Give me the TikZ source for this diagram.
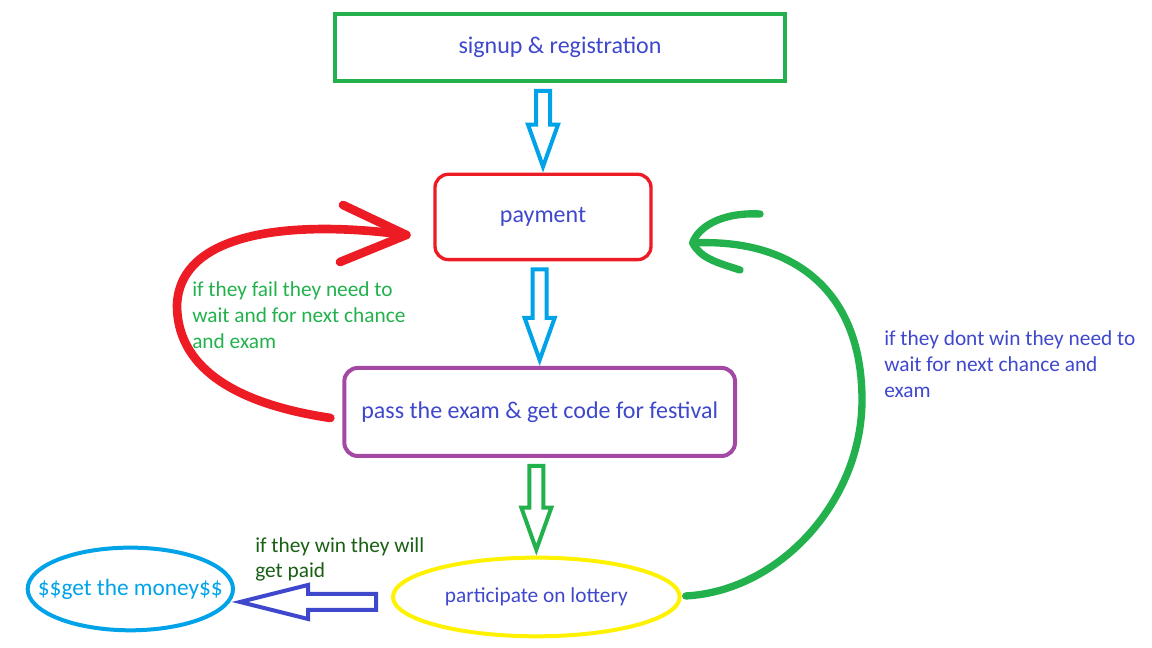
\documentclass[tikz,border=0pt]{standalone}
\usepackage{fontspec}
\setmainfont{Carlito}
\usetikzlibrary{shapes, arrows.meta, positioning, calc}
\definecolor{pgreen}{RGB}{34,177,76}
\definecolor{pred}{RGB}{237,28,36}
\definecolor{ppurple}{RGB}{163,73,164}
\definecolor{pyellow}{RGB}{255,242,0}
\definecolor{pcyan}{RGB}{0,162,232}
\definecolor{pindigo}{RGB}{63,72,204}
\definecolor{pdark}{RGB}{25,95,20}
\tikzstyle{block}=[draw,fill=white,rectangle,line width=3pt,font=\fontsize{18}{22}\selectfont]
\tikzstyle{every node}=[font=\fontsize{16}{19.5}\selectfont,text=pindigo]
\tikzstyle{hollow}=[line width=3pt,line join=miter]
\tikzstyle{loopline}=[line width=6pt,line cap=round,line join=round]
\tikzstyle{note}=[anchor=west,align=left,inner sep=0pt]
% hollow block arrow pointing down: colour, from, to
\newcommand{\hollowdown}[3]{%
    \coordinate (T) at ($(#3.north)+(0,-6)$);
    \draw[hollow,#1] ($(T |- #2.south)+(-7,8)$) -- ($(T |- #2.south)+(7,8)$)
        -- ($(T)+(7,-42)$) -- ($(T)+(15,-42)$) -- (T) -- ($(T)+(-15,-42)$)
        -- ($(T)+(-7,-42)$) -- cycle;}

\begin{document}
\begin{tikzpicture}[x=0.75pt,y=-0.75pt]
    \useasboundingbox (0,0) rectangle (1152,648);
    \node[block, draw=pgreen, minimum width=337pt, minimum height=50pt] (sign) at (560,47.5) {signup \& registration};
    \node[block, draw=pred, rounded corners=10pt, line width=2.5pt, minimum width=162pt, minimum height=64pt, below of=sign, node distance=127.1pt, xshift=-12.75pt] (pay) {payment};
    \node[block, draw=ppurple, rounded corners=10pt, minimum width=293pt, minimum height=66pt, below of=pay, node distance=146.25pt, xshift=-2.5pt] (pass) {pass the exam \& get code for festival};
    \node[draw=pyellow, ellipse, line width=3pt, minimum width=215pt, minimum height=59pt, below of=pass, node distance=138.75pt, xshift=-2.5pt] (lot) {participate on lottery};
    \node[draw=pcyan, ellipse, line width=3pt, text=pcyan, font=\fontsize{17.5}{22}\selectfont, inner xsep=-18pt, minimum width=154pt, minimum height=62pt, left of=lot, node distance=304.5pt, yshift=6pt] (money) {\$\$get the money\$\$};
    % labels
    \node[note, text=pgreen] (faillbl) at (192,315) {if they fail they need to\\wait and for next chance\\and exam};
    \node[note] (dontlbl) at (884,364) {if they dont win they need to\\wait for next chance and\\exam};
    \node[note, text=pdark, font=\fontsize{16}{18.75}\selectfont] (winlbl) at (255,559.5) {if they win they will\\get paid};
    % block arrows
    \hollowdown{pcyan}{sign}{pay}
    \hollowdown{pcyan}{pay}{pass}
    \hollowdown{pgreen}{pass}{lot}
    \coordinate (L) at ($(money.east)+(5,13)$);
    \draw[hollow, pindigo] (L) -- ($(L)+(68,-17)$) -- ($(L)+(68,-8)$) -- ($(lot.west |- L)+(-15,-8)$)
        -- ($(lot.west |- L)+(-15,8)$) -- ($(L)+(68,8)$) -- ($(L)+(68,17)$) -- cycle;
    % red loop back to payment
    \coordinate (R0) at ($(pass.west)+(-12,6)$);
    \coordinate (R1) at ($(pay.west)+(-27,18)$);
    \coordinate (redfar) at (177,305);
    \coordinate (RA) at (343,205);
    \coordinate (RB) at (340,262);
    \draw[loopline, pred, line width=6.5pt] (R0) .. controls +(-100,-15) and +(0,60) .. (redfar)
        .. controls +(3,-75) and +(-110,-15) .. (R1);
    \draw[loopline, pred, line width=6.5pt] (RA) -- (R1) -- (RB);
    % green loop back to payment
    \coordinate (G0) at ($(lot.east)+(4,-1)$);
    \coordinate (G1) at ($(pay.east)+(40,26)$);
    \coordinate (greenfar) at (862,400);
    \coordinate (GA) at (760,214);
    \coordinate (GB) at (740,270);
    \draw[loopline, pgreen, line width=5.5pt] (G0) .. controls +(95,-5) and +(0,100) .. (greenfar)
        .. controls +(0,-110) and +(100,-5) .. (G1);
    \draw[loopline, pgreen, line width=5.5pt] (GA) .. controls +(-40,-2) and +(5,-15) .. (G1)
        .. controls +(8,15) and +(-25,-8) .. (GB);
\end{tikzpicture}
\end{document}
